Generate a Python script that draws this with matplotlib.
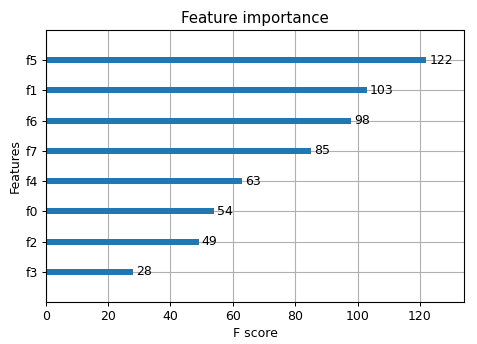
import matplotlib
matplotlib.use('Agg')
import matplotlib.pyplot as plt

# feature importance (F score), bottom to top
features = ['f3', 'f2', 'f0', 'f4', 'f7', 'f6', 'f1', 'f5']
scores = [28, 49, 54, 63, 85, 98, 103, 122]

fig, ax = plt.subplots(figsize=(477 / 72, 344 / 72), dpi=72)
fig.subplots_adjust(left=0.096, right=0.973, top=0.913, bottom=0.122)

ylocs = range(len(features))
ax.barh(ylocs, scores, height=0.2, align='center', color='#1f77b4')
for x, y in zip(scores, ylocs):
    ax.text(x + 1, y, x, va='center', fontsize=12.5)

ax.set_yticks(list(ylocs))
ax.set_yticklabels(features)
ax.set_xlim(0, max(scores) * 1.1)
ax.set_ylim(-1, len(features))
ax.set_title('Feature importance', fontsize=15, pad=7)
ax.set_xlabel('F score', fontsize=12.5)
ax.set_ylabel('Features', fontsize=12.5)
ax.tick_params(labelsize=12.5, length=4, width=1)
for s in ax.spines.values():
    s.set_linewidth(1.1)
ax.grid(True, color='#b0b0b0', linewidth=1.1)
ax.set_axisbelow(True)

plt.savefig('out.png', dpi=72)
